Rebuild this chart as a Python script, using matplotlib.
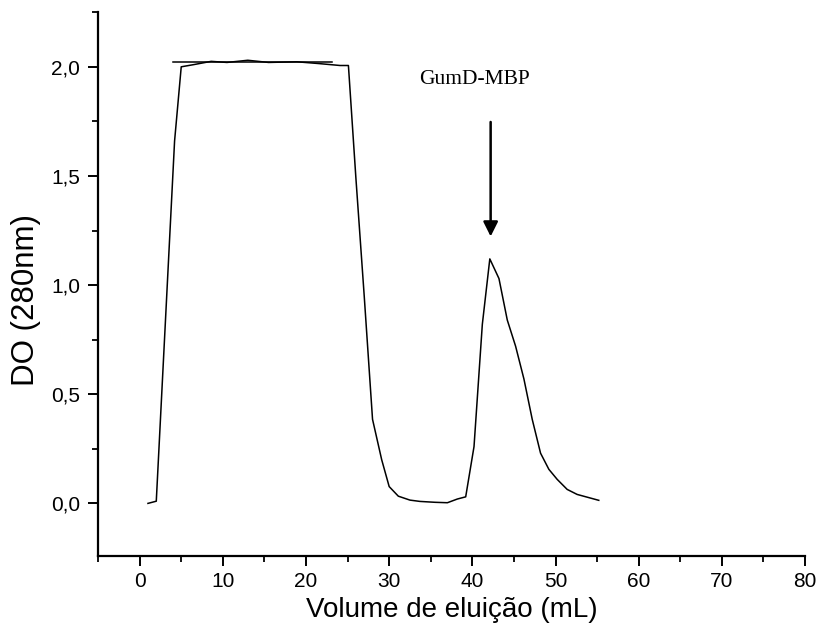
import matplotlib
matplotlib.use("Agg")
import matplotlib.pyplot as plt
from matplotlib.ticker import MultipleLocator, FuncFormatter

# curva de eluição
volume = [1.0, 2.0, 4.2, 5.0, 6.5, 8.6, 10.5, 13.0, 15.5, 18.9, 21.5, 24.1, 25.1,
          26.0, 27.0, 28.0, 29.1, 30.0, 31.1, 32.5, 33.7, 35.5, 37.0, 38.2, 39.2,
          40.2, 41.2, 42.1, 43.2, 44.2, 45.2, 46.2, 47.2, 48.2, 49.2, 50.2, 51.4,
          52.6, 55.2]
do280 = [0.0, 0.01, 1.66, 2.0, 2.01, 2.025, 2.02, 2.03, 2.02, 2.023, 2.015, 2.006, 2.006,
         1.49, 0.95, 0.385, 0.20, 0.077, 0.033, 0.015, 0.009, 0.005, 0.003, 0.02, 0.03,
         0.26, 0.82, 1.12, 1.03, 0.84, 0.72, 0.57, 0.385, 0.23, 0.156, 0.11, 0.064,
         0.041, 0.014]

# linha de saturação no topo
sat_x = [4.0, 23.1]
sat_y = [2.023, 2.023]

peak_label = "GumD-MBP"
peak_x = 42.2

fig = plt.figure(figsize=(8.24, 6.44), dpi=100)
ax = fig.add_axes([0.119, 0.137, 0.858, 0.844])

ax.plot(volume, do280, color="black", lw=1.1)
ax.plot(sat_x, sat_y, color="black", lw=1.1)

ax.annotate("", xy=(peak_x, 1.21), xytext=(peak_x, 1.76),
            arrowprops=dict(arrowstyle="-|>", color="black", lw=1.8,
                            mutation_scale=22))
ax.text(40.2, 1.94, peak_label, ha="center", va="center",
        family="Liberation Serif", fontsize=15.5)

ax.set_xlim(-5, 80)
ax.set_ylim(-0.24, 2.25)
ax.xaxis.set_major_locator(MultipleLocator(10))
ax.xaxis.set_minor_locator(MultipleLocator(5))
ax.yaxis.set_major_locator(MultipleLocator(0.5))
ax.yaxis.set_minor_locator(MultipleLocator(0.25))
ax.yaxis.set_major_formatter(FuncFormatter(lambda v, p: f"{v:.1f}".replace(".", ",")))

for s in ["top", "right"]:
    ax.spines[s].set_visible(False)
for s in ["left", "bottom"]:
    ax.spines[s].set_linewidth(1.6)

ax.tick_params(which="major", direction="out", length=7, width=1.4,
               labelsize=15, pad=6)
ax.tick_params(which="minor", direction="out", length=4, width=1.3)
ax.tick_params(axis="x", which="major", pad=5)
for lab in ax.get_xticklabels() + ax.get_yticklabels():
    lab.set_family("Liberation Sans")

ax.set_xlabel("Volume de eluição (mL)", family="Liberation Sans", fontsize=20, labelpad=4)
ax.set_ylabel("DO (280nm)", family="Liberation Sans", fontsize=22.5)
ax.yaxis.set_label_coords(-0.081, 0.47)

fig.savefig("out.png", dpi=100)
